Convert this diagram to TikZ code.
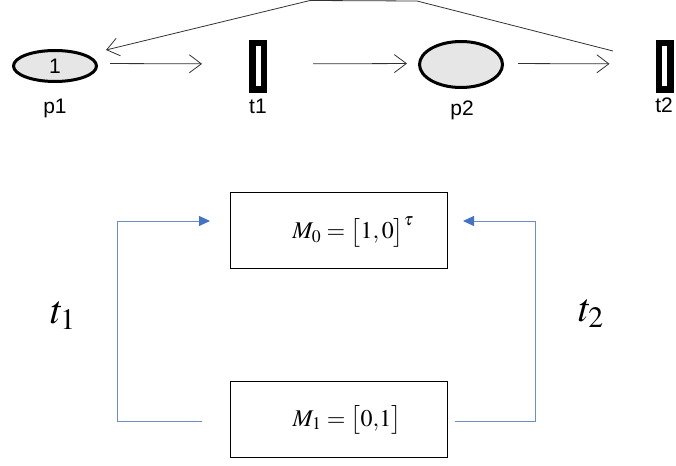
\documentclass[tikz,border=0pt]{standalone}
\usepackage{mathptmx}
\usepackage{fontspec}
\setmainfont{Liberation Sans}
\usetikzlibrary{arrows.meta,shapes.geometric}
\definecolor{pfill}{RGB}{230,230,230}
\definecolor{arcgray}{RGB}{50,50,50}
\definecolor{bline}{RGB}{110,140,200}
\definecolor{bhead}{RGB}{68,114,196}
\tikzset{
  place/.style={ellipse, draw=black, line width=3pt, fill=pfill, inner sep=0pt},
  trans/.style={rectangle, draw=black, fill=white, line width=6.5pt, inner sep=0pt, minimum width=11.5pt, minimum height=46.5pt},
  lbl/.style={anchor=base, font=\fontsize{21}{24}\selectfont},
  arc/.style={draw=arcgray, line width=0.8pt, -{Straight Barb[length=12pt,width=18pt,line width=0.8pt]}},
  mbox/.style={rectangle, draw=black, line width=1.2pt, minimum width=216.8pt, minimum height=75.8pt, inner sep=0pt},
  bluearc/.style={draw=bline, line width=1pt, -{Triangle[length=11pt,width=10pt,color=bhead]}},
  tlabel/.style={font=\fontsize{40}{44}\selectfont}
}
\begin{document}
\begin{tikzpicture}[x=1pt,y=-1pt]
\useasboundingbox (0,0) rectangle (676,465);
% Petri net
\node[place, minimum width=83pt, minimum height=31pt, font=\fontsize{21}{24}\selectfont] (p1) at (55,66) {1};
\node[trans] (t1) at (258,66.5) {};
\node[place, minimum width=83pt, minimum height=46pt] (p2) at (461,64.5) {};
\node[trans] (t2) at (664.5,66.5) {};
\node[lbl] (lp1) at (55,114) {p1};
\node[lbl] (lt1) at (258,114) {t1};
\node[lbl] (lp2) at (462,116) {p2};
\node[lbl] (lt2) at (664,113) {t2};
\draw[arc, shorten <=12pt, shorten >=47pt] ([yshift=2.5pt]p1.east) -- ([yshift=2.5pt]t1.west);
\draw[arc, shorten <=46pt, shorten >=11pt] ([yshift=2.5pt]t1.east) -- ([yshift=1pt]p2.west);
\draw[arc, shorten <=14pt, shorten >=46pt] ([yshift=1pt]p2.east) -- ([yshift=2.5pt]t2.west);
\coordinate (fbs) at (613,51);
\coordinate (fb1) at (417,1);
\coordinate (fb2) at (310,0.5);
\coordinate (fbe) at (106,50);
\draw[arc] (fbs) -- (fb1) -- (fb2) -- (fbe);
% reachability graph
\node[mbox] (M0) at (339,230.5) {};
\node[mbox] (M1) at (339,419.5) {};
\node[font=\fontsize{24}{28}\selectfont] (m0t) at (353,232) {$M_0=\big[1,0\big]^{\tau}$};
\node[font=\fontsize{24}{28}\selectfont] (m1t) at (347,420) {$M_1=\big[0{,}1\big]$};
\coordinate (l0) at ([xshift=-28pt,yshift=-1.5pt]M1.west);
\coordinate (l1) at (117,421);
\coordinate (l2) at (117,221);
\coordinate (l3) at ([xshift=-20pt,yshift=9.5pt]M0.west);
\coordinate (r0) at ([xshift=7pt,yshift=-1.5pt]M1.east);
\coordinate (r1) at (535,421);
\coordinate (r2) at (535,221);
\coordinate (r3) at ([xshift=15pt,yshift=9.5pt]M0.east);
\draw[bluearc] (l0) -- (l1) -- (l2) -- (l3);
\draw[bluearc] (r0) -- (r1) -- (r2) -- (r3);
\node[tlabel] (tl1) at (63,316) {$t_1$};
\node[tlabel] (tl2) at (591,314) {$t_2$};
\end{tikzpicture}
\end{document}
